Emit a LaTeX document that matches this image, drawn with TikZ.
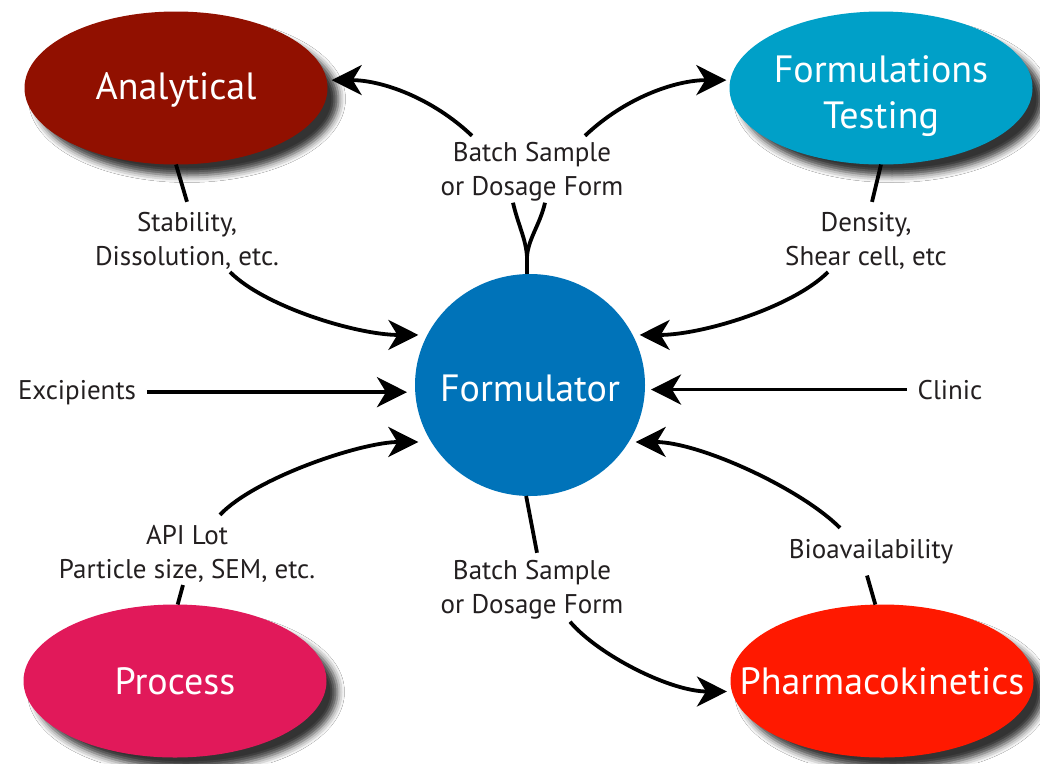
\documentclass[tikz,border=0pt]{standalone}
\usepackage{fontspec}
\setmainfont{PT Sans}
\usetikzlibrary{arrows.meta,shapes.geometric,shadows.blur}
\definecolor{cAnal}{RGB}{145,16,0}
\definecolor{cFT}{RGB}{0,160,200}
\definecolor{cForm}{RGB}{0,115,185}
\definecolor{cProc}{RGB}{225,25,90}
\definecolor{cPK}{RGB}{255,25,0}
\definecolor{cTxt}{RGB}{35,31,32}
\newcommand{\zw}[1]{\makebox[0pt]{#1}}
\begin{document}
\begin{tikzpicture}[x=1pt,y=-1pt,
  bigtext/.style={inner sep=0pt, outer sep=0pt, text=white, align=center,
    font=\fontsize{38}{46}\selectfont},
  big/.style={ellipse, bigtext, minimum width=303pt, minimum height=153pt,
    blur shadow={shadow xshift=11pt, shadow yshift=-11pt, shadow blur radius=7pt, shadow opacity=80}},
  lbl/.style={inner sep=0pt, outer sep=0pt, align=center, text=cTxt,
    font=\fontsize{27}{34}\selectfont, anchor=base},
  conn/.style={line width=3.8pt, draw=black},
  arr/.style={conn, -{Stealth[length=30pt,width=30pt,inset=9pt]}},
]
\useasboundingbox[fill=white] (0,0) rectangle (1040,763);

% main nodes
\node[big, fill=cAnal] (anal) at (176,88) {\rule{0pt}{31pt}\zw{Analytical}};
\node[big, fill=cFT] (ftest) at (881,88) {\rule{0pt}{43pt}\zw{Formulations}\\\zw{Testing}};
\node[big, fill=cProc] (proc) at (175,681) {\zw{Process}};
\node[big, fill=cPK] (pk) at (882,681) {\zw{Pharmacokinetics}};
\node[ellipse, bigtext, fill=cForm, minimum width=230pt, minimum height=222pt] (form) at (530,385) {\rule{0pt}{34pt}\zw{Formulator}};

% labels (anchor = baseline of the last line)
\node[lbl] (bsT) at (532,195) {Batch Sample\\or Dosage Form};
\node[lbl] (bsB) at (532,613) {Batch Sample\\or Dosage Form};
\node[lbl] (stab) at (187,265) {Stability,\\Dissolution, etc.};
\node[lbl] (dens) at (866,265) {Density,\\Shear cell, etc};
\node[lbl] (exc) at (77,399) {Excipients};
\node[lbl] (clin) at (950,399) {Clinic};
\node[lbl] (apil) at (187,578) {API Lot\\Particle size, SEM, etc.};
\node[lbl] (bio) at (871,558) {Bioavailability};

\coordinate (vj) at (527,257);

% top: formulator -> analytical / formulations testing
\draw[conn] ([shift={(-19,2)}]bsT.south) .. controls +(5,22) and +(-1,-18) .. (vj);
\draw[conn] ([shift={(13,2)}]bsT.south) .. controls +(-5,22) and +(1,-18) .. (vj);
\draw[conn] (vj) -- (form.north -| vj);
\draw[arr, shorten >=5pt] ([shift={(-60,-6)}]bsT.north) .. controls +(-40,-38) and +(55,0) .. (anal.3);
\draw[arr, shorten >=4pt] ([shift={(53,-6)}]bsT.north) .. controls +(40,-38) and +(-55,0) .. (ftest.177);

% bottom: formulator -> pharmacokinetics
\draw[conn] (form.268) -- ([shift={(5,-7)}]bsB.north);
\draw[arr, shorten >=5pt] ([shift={(38,3)}]bsB.south) .. controls +(28,33) and +(-62,0) .. (pk.184);

% analytical -> formulator
\draw[conn] (anal.south) -- ([shift={(0,-10)}]stab.north);
\draw[arr, shorten >=9pt] ([shift={(43,3)}]stab.south) .. controls +(35,35) and +(-70,0) .. (form.154);

% formulations testing -> formulator
\draw[conn] (ftest.south) -- ([shift={(6,-10)}]dens.north);
\draw[arr, shorten >=7pt] ([shift={(-38,3)}]dens.south) .. controls +(-35,35) and +(70,0) .. (form.26);

% excipients, clinic
\draw[arr] ([xshift=11pt]exc.east) -- ([xshift=-8pt]exc.east -| form.west);
\draw[arr] ([xshift=-11pt]clin.west) -- ([xshift=6pt]clin.west -| form.east);

% process -> formulator
\draw[conn] (proc.88) -- ([shift={(-4,3)}]apil.south);
\draw[arr, shorten >=13pt] ([shift={(33,-10)}]apil.north) .. controls +(35,-37) and +(-70,0) .. (form.210);

% pharmacokinetics -> formulator
\draw[conn] (pk.95) -- ([shift={(-4,12)}]bio.south);
\draw[arr, shorten >=7pt] ([shift={(-31,-11)}]bio.north) .. controls +(-40,-40) and +(70,0) .. (form.330);
\end{tikzpicture}
\end{document}
